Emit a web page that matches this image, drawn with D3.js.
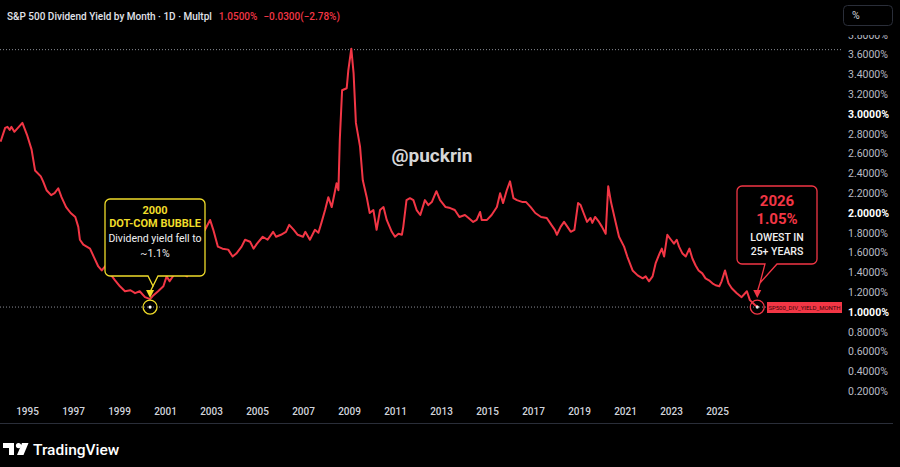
<!DOCTYPE html>
<html>
<head>
<meta charset="utf-8">
<script src="https://cdn.jsdelivr.net/npm/d3@7"></script>
<style>
  body { margin: 0; background: #000; }
  svg { display: block; font-family: Roboto, "Noto Sans", sans-serif; }
</style>
</head>
<body>
<div id="chart"></div>
<script>

// monthly-ish readings of the S&P 500 dividend yield (decimal year, %)
var years = [1993.85, 1994.05, 1994.15, 1994.25, 1994.32, 1994.45, 1994.8, 1995.0, 1995.2, 1995.35,
    1995.6, 1995.7, 1995.85, 1996.05, 1996.2, 1996.36, 1996.5, 1996.7, 1996.9, 1997.1,
    1997.23, 1997.3, 1997.45, 1997.74, 1997.9, 1998.1, 1998.25, 1998.43, 1998.6, 1998.83,
    1999.04, 1999.26, 1999.5, 1999.7, 1999.9, 2000.13, 2000.35, 2000.5, 2000.7, 2000.93,
    2001.07, 2001.2, 2001.43, 2001.6, 2001.74, 2001.96, 2002.1, 2002.3, 2002.5, 2002.74,
    2002.96, 2003.1, 2003.3, 2003.5, 2003.75, 2003.94, 2004.1, 2004.33, 2004.48, 2004.7,
    2004.85, 2005.0, 2005.25, 2005.46, 2005.7, 2005.83, 2006.04, 2006.26, 2006.4, 2006.6,
    2006.77, 2007.0, 2007.1, 2007.3, 2007.52, 2007.67, 2007.8, 2007.96, 2008.1, 2008.25,
    2008.46, 2008.54, 2008.6, 2008.7, 2008.9, 2008.97, 2009.1, 2009.2, 2009.3, 2009.48,
    2009.6, 2009.77, 2009.9, 2010.06, 2010.2, 2010.35, 2010.5, 2010.64, 2010.86, 2011.0,
    2011.15, 2011.3, 2011.36, 2011.5, 2011.65, 2011.8, 2011.94, 2012.1, 2012.3, 2012.45,
    2012.6, 2012.8, 2012.96, 2013.2, 2013.4, 2013.6, 2013.8, 2014.04, 2014.2, 2014.4,
    2014.55, 2014.7, 2014.77, 2015.0, 2015.2, 2015.43, 2015.57, 2015.7, 2015.86, 2016.0,
    2016.15, 2016.3, 2016.55, 2016.7, 2016.9, 2017.1, 2017.35, 2017.6, 2017.8, 2017.95,
    2018.04, 2018.2, 2018.35, 2018.5, 2018.64, 2018.8, 2018.96, 2019.07, 2019.2, 2019.35,
    2019.5, 2019.58, 2019.7, 2019.87, 2020.0, 2020.16, 2020.27, 2020.4, 2020.6, 2020.74,
    2020.96, 2021.1, 2021.33, 2021.55, 2021.77, 2021.9, 2022.04, 2022.2, 2022.33, 2022.5,
    2022.6, 2022.7, 2022.84, 2023.0, 2023.13, 2023.25, 2023.35, 2023.5, 2023.64, 2023.8,
    2023.93, 2024.07, 2024.2, 2024.36, 2024.5, 2024.65, 2024.8, 2024.94, 2025.1, 2025.2,
    2025.35, 2025.5, 2025.64, 2025.86, 2026.07, 2026.3, 2026.43, 2026.65, 2026.8];

var yields = [2.72, 2.86, 2.87, 2.84, 2.87, 2.82, 2.91, 2.79, 2.64, 2.43,
    2.37, 2.32, 2.23, 2.18, 2.20, 2.25, 2.16, 2.06, 2.00, 1.96,
    1.86, 1.73, 1.68, 1.64, 1.56, 1.46, 1.42, 1.47, 1.39, 1.32,
    1.26, 1.21, 1.22, 1.19, 1.21, 1.15, 1.13, 1.17, 1.21, 1.26,
    1.36, 1.31, 1.39, 1.46, 1.39, 1.36, 1.44, 1.59, 1.76, 1.83,
    1.93, 1.83, 1.66, 1.64, 1.63, 1.56, 1.59, 1.66, 1.73, 1.71,
    1.64, 1.69, 1.76, 1.73, 1.81, 1.76, 1.78, 1.81, 1.88, 1.83,
    1.78, 1.76, 1.81, 1.73, 1.83, 1.80, 1.90, 2.03, 2.16, 2.06,
    2.30, 2.23, 2.74, 3.24, 3.26, 3.44, 3.66, 3.41, 2.91, 2.67,
    2.33, 2.16, 2.00, 2.03, 1.83, 2.03, 2.06, 1.93, 1.81, 1.76,
    1.79, 1.78, 1.86, 2.13, 2.15, 2.13, 2.03, 1.98, 2.13, 2.08,
    2.11, 2.22, 2.13, 2.06, 2.05, 2.03, 1.96, 1.98, 1.95, 1.91,
    1.93, 2.01, 1.93, 1.93, 1.98, 2.06, 2.20, 2.10, 2.23, 2.32,
    2.15, 2.13, 2.11, 2.11, 2.06, 2.00, 1.96, 1.95, 1.88, 1.83,
    1.78, 1.86, 1.91, 1.86, 1.81, 1.83, 2.10, 2.08, 2.00, 1.91,
    1.95, 1.90, 1.96, 1.91, 1.86, 1.79, 2.27, 2.10, 1.90, 1.76,
    1.66, 1.56, 1.42, 1.37, 1.34, 1.36, 1.31, 1.36, 1.49, 1.59,
    1.64, 1.56, 1.78, 1.73, 1.69, 1.73, 1.66, 1.59, 1.56, 1.64,
    1.54, 1.47, 1.42, 1.39, 1.34, 1.32, 1.29, 1.27, 1.26, 1.31,
    1.42, 1.29, 1.24, 1.19, 1.15, 1.21, 1.12, 1.07, 1.05];

// axis ticks
var yearTicks = [1995, 1997, 1999, 2001, 2003, 2005, 2007, 2009, 2011, 2013, 2015, 2017, 2019, 2021, 2023, 2025];
var yieldTicks = [0.2, 0.4, 0.6, 0.8, 1.0, 1.2, 1.4, 1.6, 1.8, 2.0, 2.2, 2.4, 2.6, 2.8, 3.0, 3.2, 3.4, 3.6, 3.8];
var boldTicks = [1.0, 2.0, 3.0];

var lastValue = 1.05;
var highValue = 3.65;
var lowYear = 2000.35;
var lastYear = 2026.75;

var svgWidth = 900;
var svgHeight = 467;
var plotRight = 842;

var red = "#f23645";
var yellow = "#f0dc2a";

var svg = d3.select("#chart").append("svg")
    .attr("width", svgWidth)
    .attr("height", svgHeight);

svg.append("rect")
    .attr("width", svgWidth)
    .attr("height", svgHeight)
    .attr("fill", "#000");

// scales
var xScale = d3.scaleLinear()
    .domain([1995, 2025])
    .range([27, 717]);

var yScale = d3.scaleLinear()
    .domain([1.0, 3.6])
    .range([312, 54.6]);

var series = years.map((d, i) => ({ year: d, value: yields[i] }));

// watermark
svg.append("text")
    .attr("x", 432)
    .attr("y", 162)
    .attr("text-anchor", "middle")
    .attr("font-size", 19)
    .attr("font-weight", 700)
    .attr("fill", "#d6d6d6")
    .text("@puckrin");

// dotted price lines
svg.append("line")
    .attr("x1", 0).attr("x2", plotRight)
    .attr("y1", yScale(highValue)).attr("y2", yScale(highValue))
    .attr("stroke", "#8a8d96")
    .attr("stroke-width", 1)
    .attr("stroke-dasharray", "1,2");

svg.append("line")
    .attr("x1", 0).attr("x2", 767)
    .attr("y1", yScale(lastValue)).attr("y2", yScale(lastValue))
    .attr("stroke", "#8a8d96")
    .attr("stroke-width", 1)
    .attr("stroke-dasharray", "1,2");

// the yield line
var line = d3.line()
    .x(d => xScale(d.year))
    .y(d => yScale(d.value));

svg.append("path")
    .datum(series)
    .attr("d", line)
    .attr("fill", "none")
    .attr("stroke", red)
    .attr("stroke-width", 2)
    .attr("stroke-linejoin", "round");

// right axis (top label is cut off under the toolbar)
svg.append("clipPath")
    .attr("id", "axisClip")
    .append("rect")
    .attr("x", 0).attr("y", 35)
    .attr("width", 60).attr("height", 380);

var yAxis = d3.axisRight(yScale)
    .tickValues(yieldTicks)
    .tickSize(0)
    .tickPadding(6)
    .tickFormat(d => d.toFixed(4) + "%");

var yAxisGroup = svg.append("g")
    .attr("transform", `translate(${plotRight}, 0)`)
    .attr("clip-path", "url(#axisClip)")
    .call(yAxis);

yAxisGroup.select(".domain").remove();
yAxisGroup.selectAll("text")
    .attr("font-family", "Roboto, sans-serif")
    .attr("font-size", 10.5)
    .attr("fill", d => boldTicks.includes(d) ? "#ffffff" : "#b8bbc4")
    .attr("font-weight", d => boldTicks.includes(d) ? 700 : 400);

// the "%" button
svg.append("rect")
    .attr("x", 843.5).attr("y", 5.5)
    .attr("width", 49).attr("height", 20)
    .attr("rx", 4)
    .attr("fill", "#000")
    .attr("stroke", "#2a2e39");

svg.append("text")
    .attr("x", 852).attr("y", 19)
    .attr("font-size", 10.5)
    .attr("fill", "#d1d4dc")
    .text("%");

// bottom axis
var xAxis = d3.axisBottom(xScale)
    .tickValues(yearTicks)
    .tickSize(0)
    .tickPadding(0)
    .tickFormat(d3.format("d"));

var xAxisGroup = svg.append("g")
    .attr("transform", "translate(0, 408)")
    .call(xAxis);

xAxisGroup.select(".domain").remove();
xAxisGroup.selectAll("text")
    .attr("font-family", "Roboto, sans-serif")
    .attr("font-size", 10)
    .attr("font-weight", 500)
    .attr("fill", "#d1d4dc");

svg.append("line")
    .attr("x1", 0).attr("x2", 893)
    .attr("y1", 423.5).attr("y2", 423.5)
    .attr("stroke", "#2a2e39")
    .attr("stroke-width", 1);

// header
var header = svg.append("text")
    .attr("x", 7)
    .attr("y", 20)
    .attr("font-size", 10)
    .attr("font-weight", 500);

header.append("tspan")
    .attr("fill", "#e0e3eb")
    .text("S&P 500 Dividend Yield by Month · 1D · Multpl");
header.append("tspan")
    .attr("dx", 7)
    .attr("fill", red)
    .text("1.0500%");
header.append("tspan")
    .attr("dx", 6)
    .attr("fill", red)
    .text("\u22120.0300(\u22122.78%)");

// callout boxes with a tail, arrow and target circle
function callout(opts) {
    var g = svg.append("g");
    var b = opts.box;
    var r = 5;
    var path = d3.path();
    path.moveTo(b.x0 + r, b.y0);
    path.lineTo(b.x1 - r, b.y0);
    path.arcTo(b.x1, b.y0, b.x1, b.y0 + r, r);
    path.lineTo(b.x1, b.y1 - r);
    path.arcTo(b.x1, b.y1, b.x1 - r, b.y1, r);
    path.lineTo(opts.tail[2][0], opts.tail[2][1]);
    path.lineTo(opts.tail[1][0], opts.tail[1][1]);
    path.lineTo(opts.tail[0][0], opts.tail[0][1]);
    path.lineTo(b.x0 + r, b.y1);
    path.arcTo(b.x0, b.y1, b.x0, b.y1 - r, r);
    path.lineTo(b.x0, b.y0 + r);
    path.arcTo(b.x0, b.y0, b.x0 + r, b.y0, r);
    path.closePath();

    g.append("path")
        .attr("d", path.toString())
        .attr("fill", "#000")
        .attr("stroke", opts.color)
        .attr("stroke-width", 1.3);

    var tip = opts.tail[1];
    var cx = opts.target[0], cy = opts.target[1];
    var ay = cy - 9;
    g.append("line")
        .attr("x1", tip[0]).attr("y1", tip[1])
        .attr("x2", cx).attr("y2", ay - 6)
        .attr("stroke", opts.color)
        .attr("stroke-width", 1.3);
    g.append("path")
        .attr("d", `M${cx - 4},${ay - 8} L${cx + 4},${ay - 8} L${cx},${ay} Z`)
        .attr("fill", opts.color);

    g.append("circle")
        .attr("cx", cx).attr("cy", cy)
        .attr("r", 7)
        .attr("fill", "none")
        .attr("stroke", opts.color)
        .attr("stroke-width", 1.3);
    g.append("circle")
        .attr("cx", cx).attr("cy", cy)
        .attr("r", 1.6)
        .attr("fill", opts.dot);

    opts.lines.forEach(l => {
        g.append("text")
            .attr("x", (b.x0 + b.x1) / 2)
            .attr("y", l.y)
            .attr("text-anchor", "middle")
            .attr("font-size", l.size)
            .attr("font-weight", l.weight)
            .attr("fill", l.color)
            .text(l.text);
    });
}

callout({
    color: yellow,
    dot: "#ffffff",
    box: { x0: 105, y0: 199, x1: 205, y1: 276 },
    tail: [[148, 276], [153, 286], [158, 276]],
    target: [xScale(lowYear), yScale(lastValue)],
    lines: [
        { text: "2000", y: 214, size: 11, weight: 700, color: yellow },
        { text: "DOT-COM BUBBLE", y: 227, size: 11, weight: 700, color: yellow },
        { text: "Dividend yield fell to", y: 242, size: 10.5, weight: 400, color: "#f0f0f0" },
        { text: "~1.1%", y: 257, size: 10.5, weight: 400, color: "#f0f0f0" }
    ]
});

callout({
    color: red,
    dot: "#e8e8e8",
    box: { x0: 737, y0: 186, x1: 817, y1: 264 },
    tail: [[765, 264], [760, 283], [777, 264]],
    target: [xScale(lastYear), yScale(lastValue)],
    lines: [
        { text: "2026", y: 206, size: 15, weight: 700, color: red },
        { text: "1.05%", y: 224, size: 15, weight: 700, color: red },
        { text: "LOWEST IN", y: 241, size: 10.5, weight: 500, color: "#f0f0f0" },
        { text: "25+ YEARS", y: 255, size: 10.5, weight: 500, color: "#f0f0f0" }
    ]
});

// series label
svg.append("rect")
    .attr("x", 767).attr("y", 302)
    .attr("width", 75).attr("height", 11)
    .attr("fill", red);

svg.append("text")
    .attr("x", 804.5).attr("y", 310)
    .attr("text-anchor", "middle")
    .attr("font-size", 6)
    .attr("fill", "#3a0508")
    .text("SP500_DIV_YIELD_MONTH");

// TradingView logo
var logo = svg.append("g").attr("fill", "#ffffff");
logo.append("path").attr("d", "M3,443 H14 V455 H9 V448 H3 Z");
logo.append("circle").attr("cx", 18.5).attr("cy", 445.6).attr("r", 2.6);
logo.append("path").attr("d", "M22,443 H28.5 L23.5,455 H17 Z");

svg.append("text")
    .attr("x", 33)
    .attr("y", 455)
    .attr("font-size", 15.5)
    .attr("font-weight", 500)
    .attr("fill", "#ffffff")
    .text("TradingView");

</script>
</body>
</html>
